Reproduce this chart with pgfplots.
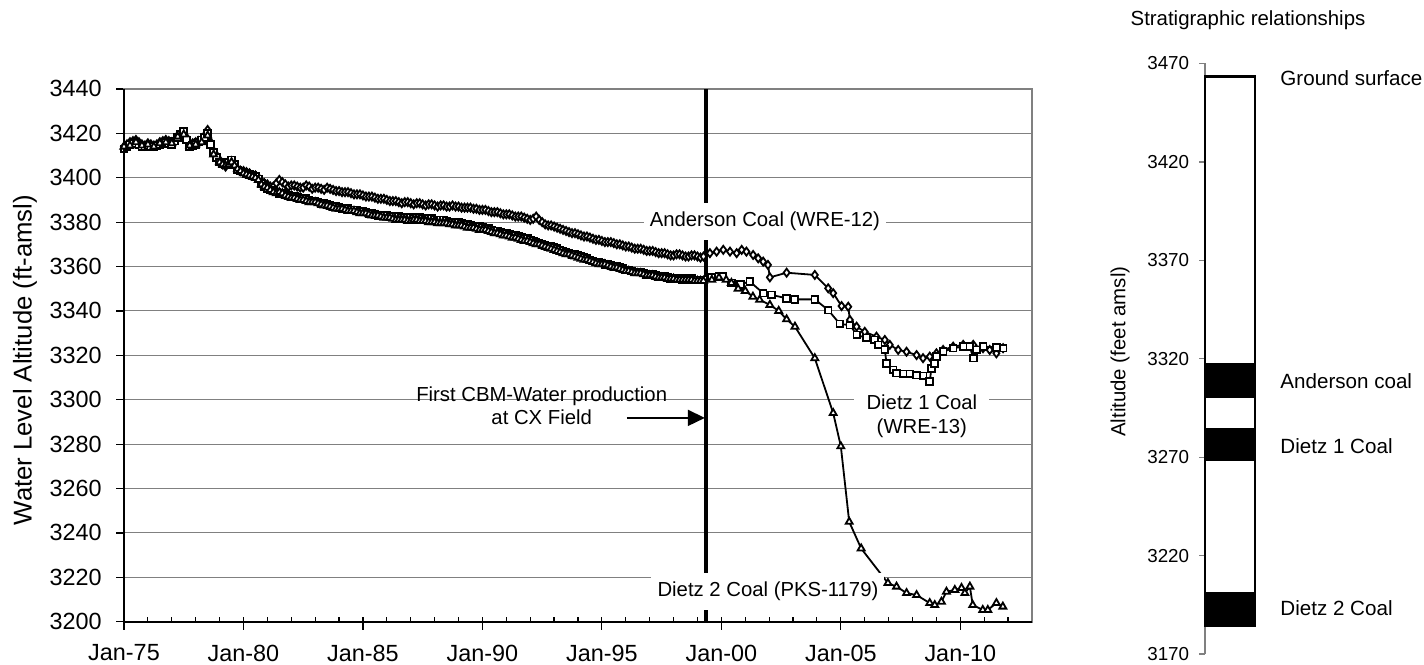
\documentclass[border=0pt]{standalone}
\usepackage{pgfplots}
\pgfplotsset{compat=1.18}
\usepackage{pgfplotstable}
\usepackage{fontspec}
\setmainfont{Liberation Sans}
\usetikzlibrary{arrows.meta}

\definecolor{gridgray}{RGB}{128,128,128}

% Anderson Coal, well WRE-12
\pgfplotstableread{
yr alt
1975.000 3414
1975.125 3415
1975.250 3416
1975.375 3416.5
1975.500 3417
1975.625 3416
1975.750 3415
1975.875 3414.5
1976.000 3415.5
1976.125 3415
1976.250 3414.5
1976.375 3415
1976.500 3416
1976.625 3416.5
1976.750 3417
1976.875 3416.5
1977.000 3416
1977.125 3417
1977.250 3419
1977.375 3419.5
1977.500 3420
1977.625 3418
1977.750 3415
1977.875 3415.5
1978.000 3416
1978.125 3416.5
1978.250 3417
1978.375 3419
1978.500 3421.5
1978.625 3416
1978.750 3412
1978.875 3410
1979.000 3408
1979.125 3406
1979.250 3405
1979.375 3406.5
1979.500 3407.5
1979.625 3405.5
1979.750 3404
1979.875 3403
1980.000 3403
1980.125 3402.5
1980.250 3402
1980.375 3401
1980.500 3401
1980.625 3400
1980.750 3398.5
1980.875 3397.5
1981.000 3397
1981.125 3396
1981.250 3396
1981.375 3397.5
1981.500 3399
1981.625 3398
1981.750 3397
1981.875 3396
1982.000 3396.5
1982.125 3396.5
1982.250 3396
1982.375 3395.5
1982.500 3395.5
1982.625 3396.5
1982.750 3396
1982.875 3395
1983.000 3395.5
1983.125 3395.5
1983.250 3395
1983.375 3394.5
1983.500 3395.5
1983.625 3395
1983.750 3394.5
1983.875 3394
1984.000 3394
1984.125 3393.5
1984.250 3393.5
1984.375 3393.5
1984.500 3393
1984.625 3392.5
1984.750 3392.5
1984.875 3392.5
1985.000 3392
1985.125 3391.5
1985.250 3391.5
1985.375 3391.5
1985.500 3391
1985.625 3390.5
1985.750 3390.5
1985.875 3390.5
1986.000 3390
1986.125 3389.5
1986.250 3389.5
1986.375 3389.5
1986.500 3389
1986.625 3388.5
1986.750 3389
1986.875 3389
1987.000 3388.5
1987.125 3388
1987.250 3388.5
1987.375 3388.5
1987.500 3388
1987.625 3387.5
1987.750 3388
1987.875 3388
1988.000 3387.5
1988.125 3387
1988.250 3387.5
1988.375 3387.5
1988.500 3387
1988.625 3387
1988.750 3387.5
1988.875 3387
1989.000 3387
1989.125 3386.5
1989.250 3386.5
1989.375 3386.5
1989.500 3386.5
1989.625 3386
1989.750 3386
1989.875 3385.5
1990.000 3385.5
1990.125 3385.5
1990.250 3385
1990.375 3384.5
1990.500 3384.5
1990.625 3384.5
1990.750 3384
1990.875 3383.5
1991.000 3383.5
1991.125 3383.5
1991.250 3383
1991.375 3382.5
1991.500 3382.5
1991.625 3382.5
1991.750 3382
1991.875 3381.5
1992.000 3381
1992.125 3381.5
1992.250 3382.5
1992.375 3381
1992.500 3380
1992.625 3379
1992.750 3378.5
1992.875 3378.5
1993.000 3378
1993.125 3377.5
1993.250 3377
1993.375 3376.5
1993.500 3376
1993.625 3375.5
1993.750 3375
1993.875 3375
1994.000 3374.5
1994.125 3374
1994.250 3373.5
1994.375 3373.5
1994.500 3373
1994.625 3372.5
1994.750 3372
1994.875 3372
1995.000 3371.5
1995.125 3371
1995.250 3371
1995.375 3371
1995.500 3370.5
1995.625 3370
1995.750 3370
1995.875 3369.5
1996.000 3369
1996.125 3369
1996.250 3368.5
1996.375 3368
1996.500 3368
1996.625 3368
1996.750 3367.5
1996.875 3367
1997.000 3367
1997.125 3367
1997.250 3366.5
1997.375 3366
1997.500 3366
1997.625 3366
1997.750 3365.5
1997.875 3365
1998.000 3365
1998.125 3365.5
1998.250 3365.5
1998.375 3365
1998.500 3364.5
1998.625 3364.5
1998.750 3365
1998.875 3365
1999.000 3364.5
1999.125 3364
1999.250 3364.5
1999.520 3366
1999.800 3366.7
2000.080 3367.5
2000.360 3366.7
2000.640 3366
2000.850 3367.5
2001.050 3366.7
2001.330 3365.2
2001.540 3363.7
2001.750 3362.2
2001.950 3360.7
2002.030 3355.1
2002.730 3357.2
2003.910 3356.2
2004.470 3350.2
2004.680 3348
2005.030 3342.2
2005.310 3341.9
2005.380 3335.9
2005.660 3332.9
2006.000 3330.6
2006.490 3328.4
2006.840 3326.9
2007.050 3324.7
2007.400 3322.4
2007.750 3321.6
2008.170 3320.1
2008.440 3318.7
2008.720 3319.4
2009.000 3320.9
2009.280 3322.4
2009.700 3323.9
2010.120 3324.7
2010.540 3324.7
2010.950 3323.2
2011.230 3322.4
2011.510 3320.9
2011.790 3323.2
}\anderson

% Dietz 1 Coal, well WRE-13
\pgfplotstableread{
yr alt
1975.000 3413
1975.125 3414
1975.250 3415
1975.375 3415.5
1975.500 3415.5
1975.625 3415
1975.750 3414
1975.875 3414
1976.000 3414.5
1976.125 3414
1976.250 3414
1976.375 3414.5
1976.500 3415
1976.625 3415.5
1976.750 3416
1976.875 3415.5
1977.000 3415
1977.125 3416.5
1977.250 3418
1977.375 3419.5
1977.500 3421
1977.625 3417
1977.750 3414
1977.875 3414.5
1978.000 3415
1978.125 3416
1978.250 3417
1978.375 3418
1978.500 3420
1978.625 3415
1978.750 3411.5
1978.875 3409
1979.000 3407
1979.125 3406.5
1979.250 3406
1979.375 3407
1979.500 3408
1979.625 3406
1979.750 3403.5
1979.875 3403
1980.000 3402.5
1980.125 3402
1980.250 3401.5
1980.375 3401
1980.500 3400.5
1980.625 3399.5
1980.750 3397.5
1980.875 3396
1981.000 3395
1981.125 3394.5
1981.250 3394
1981.375 3393.5
1981.500 3393
1981.625 3393
1981.750 3392.5
1981.875 3392
1982.000 3391.5
1982.125 3391.5
1982.250 3391
1982.375 3390.5
1982.500 3390.5
1982.625 3390.5
1982.750 3390
1982.875 3389.5
1983.000 3389.5
1983.125 3389
1983.250 3388.5
1983.375 3388.5
1983.500 3388
1983.625 3387.5
1983.750 3387
1983.875 3387
1984.000 3386.5
1984.125 3386
1984.250 3386
1984.375 3386
1984.500 3385.5
1984.625 3385.5
1984.750 3385.5
1984.875 3385
1985.000 3385
1985.125 3384.5
1985.250 3384
1985.375 3384
1985.500 3383.5
1985.625 3383
1985.750 3383
1985.875 3383
1986.000 3383
1986.125 3382.5
1986.250 3382.5
1986.375 3382.5
1986.500 3382.5
1986.625 3382
1986.750 3382
1986.875 3382
1987.000 3382
1987.125 3381.5
1987.250 3382
1987.375 3382
1987.500 3381.5
1987.625 3381
1987.750 3381.5
1987.875 3381.5
1988.000 3381
1988.125 3380.5
1988.250 3381
1988.375 3381
1988.500 3380.5
1988.625 3380
1988.750 3380
1988.875 3380
1989.000 3380
1989.125 3379.5
1989.250 3379
1989.375 3379
1989.500 3378.5
1989.625 3378
1989.750 3378
1989.875 3378
1990.000 3377.5
1990.125 3377
1990.250 3377
1990.375 3376.5
1990.500 3376
1990.625 3376
1990.750 3375.5
1990.875 3375
1991.000 3375
1991.125 3374.5
1991.250 3374
1991.375 3374
1991.500 3373.5
1991.625 3373
1991.750 3372.5
1991.875 3372.5
1992.000 3372
1992.125 3371.5
1992.250 3371
1992.375 3370.5
1992.500 3370
1992.625 3369.5
1992.750 3369
1992.875 3369
1993.000 3368.5
1993.125 3368
1993.250 3367.5
1993.375 3367
1993.500 3366.5
1993.625 3366
1993.750 3365.5
1993.875 3365.5
1994.000 3365
1994.125 3364.5
1994.250 3364
1994.375 3363.5
1994.500 3363
1994.625 3362.5
1994.750 3362
1994.875 3362
1995.000 3361.5
1995.125 3361
1995.250 3361
1995.375 3360.5
1995.500 3360
1995.625 3360
1995.750 3359.5
1995.875 3359
1996.000 3358.5
1996.125 3358.5
1996.250 3358
1996.375 3357.5
1996.500 3357.5
1996.625 3357.5
1996.750 3357
1996.875 3356.5
1997.000 3356.5
1997.125 3356.5
1997.250 3356
1997.375 3355.5
1997.500 3355.5
1997.625 3355.5
1997.750 3355
1997.875 3354.5
1998.000 3354.5
1998.125 3354.5
1998.250 3354.5
1998.375 3354
1998.500 3354
1998.625 3354.5
1998.750 3354.5
1998.875 3354
1999.000 3354
1999.125 3354
1999.250 3354
1999.600 3355
1999.900 3355.5
2000.060 3355.5
2000.420 3352.6
2000.800 3352
2001.190 3353.2
2001.750 3348
2002.100 3347.2
2002.730 3345.7
2003.080 3345.2
2003.910 3345.2
2004.470 3340.4
2004.960 3334.1
2005.380 3333.6
2005.670 3329.2
2006.070 3327.8
2006.420 3326.9
2006.560 3324.7
2006.840 3322.7
2006.910 3316.4
2007.190 3313.4
2007.330 3312
2007.610 3311.6
2007.890 3311.6
2008.170 3311.1
2008.440 3310.7
2008.720 3308.1
2008.790 3314.1
2008.930 3316.4
2009.000 3319.4
2009.280 3321.6
2009.700 3323.2
2010.120 3323.9
2010.400 3323.9
2010.540 3318.7
2010.680 3322.4
2010.950 3323.9
2011.510 3323.6
2011.790 3323.2
}\dietzone

% Dietz 2 Coal, well PKS-1179
\pgfplotstableread{
yr alt
1975.000 3414
1975.250 3414.5
1975.500 3416
1975.750 3414.5
1976.000 3415
1976.250 3414
1976.500 3415.5
1976.750 3416
1977.000 3415.5
1977.250 3418.5
1977.500 3419.5
1977.750 3414.5
1978.000 3415
1978.250 3416
1978.500 3419
1978.750 3410.5
1979.000 3407
1979.125 3406
1979.250 3405.5
1979.375 3406
1979.500 3407
1979.625 3405.5
1979.750 3404
1979.875 3403
1980.000 3402
1980.125 3401.5
1980.250 3401
1980.375 3400.5
1980.500 3400
1980.625 3399
1980.750 3397
1980.875 3396
1981.000 3395.5
1981.125 3394.5
1981.250 3393.5
1981.375 3393
1981.500 3393.5
1981.625 3393
1981.750 3392
1981.875 3391.5
1982.000 3391
1982.125 3391
1982.250 3390.5
1982.375 3390
1982.500 3390
1982.625 3389.5
1982.750 3389
1982.875 3389
1983.000 3389
1983.125 3388.5
1983.250 3388
1983.375 3387.5
1983.500 3387.5
1983.625 3387
1983.750 3386.5
1983.875 3386
1984.000 3386
1984.125 3386
1984.250 3385.5
1984.375 3385
1984.500 3385
1984.625 3385
1984.750 3384.5
1984.875 3384
1985.000 3384
1985.125 3384
1985.250 3383.5
1985.375 3383
1985.500 3383
1985.625 3383
1985.750 3382.5
1985.875 3382
1986.000 3382
1986.125 3382
1986.250 3381.5
1986.375 3381
1986.500 3381
1986.625 3381
1986.750 3381
1986.875 3380.5
1987.000 3380.5
1987.125 3381
1987.250 3381
1987.375 3380.5
1987.500 3380.5
1987.625 3380.5
1987.750 3380
1987.875 3380
1988.000 3380
1988.125 3379.5
1988.250 3379.5
1988.375 3379.5
1988.500 3379.5
1988.625 3379
1988.750 3379
1988.875 3378.5
1989.000 3378.5
1989.125 3378.5
1989.250 3378
1989.375 3377.5
1989.500 3377.5
1989.625 3377.5
1989.750 3377
1989.875 3376.5
1990.000 3376.5
1990.125 3376.5
1990.250 3376
1990.375 3375.5
1990.500 3375
1990.625 3375
1990.750 3374.5
1990.875 3374
1991.000 3374
1991.125 3373.5
1991.250 3373
1991.375 3373
1991.500 3372.5
1991.625 3372
1991.750 3371.5
1991.875 3371.5
1992.000 3371
1992.125 3370.5
1992.250 3370
1992.375 3370
1992.500 3369.5
1992.625 3369
1992.750 3368.5
1992.875 3368
1993.000 3367.5
1993.125 3367
1993.250 3366.5
1993.375 3366
1993.500 3365.5
1993.625 3365.5
1993.750 3365
1993.875 3364.5
1994.000 3364
1994.125 3363.5
1994.250 3363
1994.375 3363
1994.500 3362.5
1994.625 3362
1994.750 3361.5
1994.875 3361
1995.000 3361
1995.125 3361
1995.250 3360.5
1995.375 3360
1995.500 3359.5
1995.625 3359.5
1995.750 3359
1995.875 3358.5
1996.000 3358
1996.125 3358
1996.250 3357.5
1996.375 3357
1996.500 3357
1996.625 3357
1996.750 3356.5
1996.875 3356
1997.000 3356
1997.125 3356
1997.250 3355.5
1997.375 3355
1997.500 3355
1997.625 3355
1997.750 3354.5
1997.875 3354.5
1998.000 3354.5
1998.125 3354
1998.250 3354
1998.375 3354
1998.500 3354
1998.625 3354
1998.750 3354
1998.875 3353.5
1999.000 3353.5
1999.125 3353.5
1999.250 3353.5
1999.600 3354
1999.900 3355
2000.200 3354
2000.420 3352.6
2000.700 3350
2001.000 3349
2001.320 3346.4
2001.600 3345
2002.030 3342.7
2002.400 3340
2002.730 3336.2
2003.080 3332.9
2003.910 3318.7
2004.680 3294
2005.000 3279
2005.350 3245
2005.850 3233
2006.970 3217.4
2007.330 3215.8
2007.750 3212.9
2008.170 3212
2008.720 3208.4
2008.930 3207.5
2009.210 3209
2009.420 3213.5
2009.770 3214.3
2010.050 3215.2
2010.190 3212.9
2010.400 3215.8
2010.520 3207.5
2010.940 3205.3
2011.150 3205.3
2011.510 3208.4
2011.780 3206.8
}\dietztwo

\begin{document}
\begin{tikzpicture}
\path[use as bounding box] (0pt,0pt) rectangle (712pt,332pt);

% ---------------- water level hydrographs ----------------
\begin{axis}[
  at={(62pt,21.15pt)}, anchor=south west,
  scale only axis, width=454pt, height=266.4pt,
  xmin=1975, xmax=2013, ymin=3200, ymax=3440,
  tick pos=left,
  xtick={1975,1980,...,2010},
  xticklabels={Jan-75,Jan-80,Jan-85,Jan-90,Jan-95,Jan-00,Jan-05,Jan-10},
  minor xtick={1976,1977,...,2012},
  ytick={3200,3220,...,3440},
  ymajorgrids,
  major grid style={draw=gridgray, line width=0.5pt},
  tick align=outside,
  major tick length=4pt,
  minor tick length=2.5pt,
  minor x tick style={yshift=2.5pt},
  tick style={black, line width=0.6pt},
  axis line style={draw=gridgray, line width=1pt},
  tick label style={font=\fontsize{11.7}{14}\selectfont},
  /pgf/number format/assume math mode=true,
  /pgf/number format/set thousands separator={},
  yticklabel style={xshift=-3.6pt},
  xticklabel style={yshift=-4pt},
  ylabel={Water Level Altitude (ft-amsl)},
  ylabel style={at={(axis description cs:-0.109,0.491)}, anchor=center,
    font=\fontsize{12.85}{15}\selectfont},
  clip=false,
  mark options={solid, fill=white, draw=black, line width=0.9pt},
]
% first CBM-water production
\addplot[black, line width=1.7pt] coordinates {(1999.35,3200) (1999.35,3440)};

\addplot[black, line width=0.9pt, mark=diamond*, mark size=2pt] table[x=yr,y=alt] {\anderson};
\addplot[black, line width=0.9pt, mark=square*, mark size=1.7pt] table[x=yr,y=alt] {\dietzone};
\addplot[black, line width=0.9pt, mark=triangle*, mark size=2pt] table[x=yr,y=alt] {\dietztwo};

% axis lines
\draw[black, line width=1pt] (rel axis cs:0,1) -- (rel axis cs:0,0) -- (rel axis cs:1,0);

% well labels
\node[fill=white, inner sep=0pt, minimum width=121pt, minimum height=18.5pt,
  font=\fontsize{10.15}{12}\selectfont] at (axis cs:2001.82,3380.3) {Anderson Coal (WRE-12)};
\node[fill=white, inner sep=0pt, minimum width=67.5pt, minimum height=25pt, align=center,
  font=\fontsize{10.15}{12}\selectfont] at (axis cs:2008.39,3292.7) {Dietz 1 Coal\\(WRE-13)};
\node[fill=white, inner sep=0pt, minimum width=116.5pt, minimum height=18.5pt,
  font=\fontsize{10.15}{12}\selectfont] at (axis cs:2001.95,3213.6) {Dietz 2 Coal (PKS-1179)};

\node[align=center, inner sep=0pt, font=\fontsize{10.15}{11.75}\selectfont]
  at (axis cs:1992.48,3297.3) {First CBM-Water production\\at CX Field};
\draw[black, line width=0.8pt, -{Triangle[length=8.5pt,width=8pt]}]
  (axis cs:1996.05,3291.8) -- (axis cs:1999.31,3291.8);
\end{axis}

% ---------------- stratigraphic column ----------------
\begin{axis}[
  at={(602.5pt,5pt)}, anchor=south west,
  scale only axis, width=25pt, height=295.25pt,
  xmin=0, xmax=1, ymin=3170, ymax=3470,
  hide x axis,
  axis y line*=left,
  y axis line style={draw=gridgray, line width=0.6pt, -},
  ytick={3170,3220,...,3470},
  tick align=outside, major tick length=2.8pt,
  ytick style={draw=gridgray, line width=0.6pt},
  yticklabel style={font=\fontsize{9.4}{11}\selectfont, xshift=-1.6pt},
  /pgf/number format/assume math mode=true,
  /pgf/number format/set thousands separator={},
  ylabel={Altitude (feet amsl)},
  ylabel style={at={(axis description cs:-1.7,0.512)}, anchor=center,
    font=\fontsize{10.2}{12}\selectfont},
  clip=false,
]
\addplot[draw=black, fill=white, line width=1.2pt] coordinates
  {(0,3184.5) (0,3463.3) (1,3463.3) (1,3184.5)} -- cycle;
\addplot[draw=none, fill=black] coordinates
  {(0,3300) (0,3318) (1,3318) (1,3300)} -- cycle;
\addplot[draw=none, fill=black] coordinates
  {(0,3268) (0,3285) (1,3285) (1,3268)} -- cycle;
\addplot[draw=none, fill=black] coordinates
  {(0,3184.5) (0,3201.5) (1,3201.5) (1,3184.5)} -- cycle;

\begin{scope}[font=\fontsize{10.3}{12}\selectfont]
\node[anchor=west, inner sep=0pt] at (axis cs:1.5,3462.5) {Ground surface};
\node[anchor=west, inner sep=0pt] at (axis cs:1.5,3308.7) {Anderson coal};
\node[anchor=west, inner sep=0pt] at (axis cs:1.5,3275.6) {Dietz 1 Coal};
\node[anchor=west, inner sep=0pt] at (axis cs:1.5,3193.5) {Dietz 2 Coal};
\end{scope}
\end{axis}

\node[font=\fontsize{10.2}{12}\selectfont] at (624pt,322pt) {Stratigraphic relationships};
\end{tikzpicture}
\end{document}
